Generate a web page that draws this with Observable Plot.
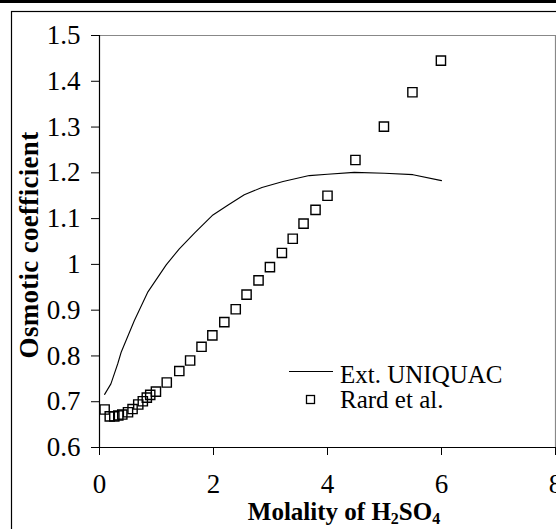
<!DOCTYPE html>
<html>
<head>
<meta charset="utf-8">
<script src="https://cdn.jsdelivr.net/npm/d3@7"></script>
<script src="https://cdn.jsdelivr.net/npm/@observablehq/plot@0.6"></script>
<style>
  html, body { margin: 0; padding: 0; background: #fff; overflow: hidden; }
  #chart { position: absolute; left: 0; top: 0; width: 556px; height: 529px; }
</style>
</head>
<body>
<div id="chart"></div>
<script>
// Rard et al. experimental osmotic coefficients
const rardMolality = [0.09,0.18,0.26,0.33,0.40,0.50,0.58,0.68,0.76,0.83,0.89,0.99,1.18,1.40,1.59,1.79,1.98,2.19,2.39,2.58,2.79,2.99,3.20,3.39,3.58,3.79,4.00,4.49,4.99,5.49,5.99];
const rardPhi = [0.683,0.668,0.668,0.670,0.672,0.677,0.684,0.694,0.701,0.709,0.715,0.722,0.742,0.767,0.790,0.820,0.845,0.874,0.902,0.934,0.965,0.994,1.025,1.056,1.089,1.119,1.150,1.228,1.301,1.376,1.445];
// Extended UNIQUAC model curve
const uniquacMolality = [0.09,0.20,0.32,0.38,0.61,0.85,1.17,1.40,1.67,1.99,2.25,2.54,2.85,3.22,3.68,4.00,4.47,5.00,5.50,6.00];
const uniquacPhi = [0.716,0.739,0.783,0.808,0.877,0.940,0.999,1.034,1.069,1.108,1.129,1.152,1.168,1.181,1.194,1.197,1.201,1.199,1.196,1.183];
// Axis ticks and texts
const xTicks = [0,2,4,6,8];
const yTicks = [0.6,0.7,0.8,0.9,1.0,1.1,1.2,1.3,1.4,1.5];
const yTitle = "Osmotic coefficient";
const xTitleParts = [["Molality of H", false], ["2", true], ["SO", false], ["4", true]];
const legendItems = ["Ext. UNIQUAC", "Rard et al."];

const rard = rardMolality.map((m, i) => ({m, phi: rardPhi[i]}));
const uniquac = uniquacMolality.map((m, i) => ({m, phi: uniquacPhi[i]}));

const font = "Liberation Serif, Times New Roman, serif";

const plot = Plot.plot({
  width: 556,
  height: 529,
  marginLeft: 99,
  marginRight: 1,
  marginTop: 35,
  marginBottom: 82,
  style: {fontFamily: font, fontSize: "27px", background: "white", color: "black", overflow: "hidden"},
  x: {domain: [0, 8]},
  y: {domain: [0.6, 1.5]},
  marks: [
    Plot.ruleY([1.5], {stroke: "#888", strokeWidth: 1.2}),
    Plot.ruleX([8], {stroke: "#888", strokeWidth: 1.2}),
    Plot.axisX({ticks: xTicks, tickSize: 8, tickPadding: 18, tickFormat: d => String(d), label: null, fontSize: 27, stroke: "black"}),
    Plot.axisY({ticks: yTicks, tickSize: 8, tickPadding: 11, tickFormat: d => String(+d.toFixed(1)), label: null, fontSize: 27, stroke: "black"}),
    Plot.ruleX([0], {stroke: "black", strokeWidth: 1.2}),
    Plot.ruleY([0.6], {stroke: "black", strokeWidth: 1.2}),
    Plot.line(uniquac, {x: "m", y: "phi", stroke: "black", strokeWidth: 1.1}),
    Plot.dot(rard, {x: "m", y: "phi", symbol: "square", r: 5.2, stroke: "black", strokeWidth: 1.4, fill: "none"})
  ]
});

document.getElementById("chart").appendChild(plot);

const svg = d3.select(plot);
// outer frame and top band
svg.append("rect").attr("x", 0).attr("y", 0).attr("width", 556).attr("height", 3).attr("fill", "black");
svg.append("rect").attr("x", 11.5).attr("y", 11.5).attr("width", 600).attr("height", 600)
  .attr("fill", "none").attr("stroke", "black").attr("stroke-width", 1.2);

// y title
svg.append("text")
  .attr("transform", "translate(38,245) rotate(-90)")
  .attr("text-anchor", "middle")
  .attr("font-family", font).attr("font-weight", "bold").attr("font-size", 27)
  .attr("letter-spacing", 0.3)
  .attr("fill", "black")
  .text(yTitle);

// x title with subscripts
const xt = svg.append("text")
  .attr("x", 344).attr("y", 520)
  .attr("text-anchor", "middle")
  .attr("font-family", font).attr("font-weight", "bold").attr("font-size", 25)
  .attr("fill", "black");
xTitleParts.forEach(([t, sub], i) => {
  const ts = xt.append("tspan").text(t);
  if (sub) ts.attr("font-size", 16).attr("dy", 4);
  else if (i > 0) ts.attr("dy", -4);
});

// legend
const lg = svg.append("g").attr("font-family", font).attr("font-size", 25).attr("fill", "black").attr("text-anchor", "start");
lg.append("line").attr("x1", 289).attr("x2", 333).attr("y1", 371.5).attr("y2", 371.5)
  .attr("stroke", "black").attr("stroke-width", 1.1);
lg.append("rect").attr("x", 306.5).attr("y", 395.5).attr("width", 8).attr("height", 8)
  .attr("fill", "none").attr("stroke", "black").attr("stroke-width", 1.3);
lg.append("text").attr("x", 340).attr("y", 383).text(legendItems[0]);
lg.append("text").attr("x", 340).attr("y", 408).text(legendItems[1]);
</script>
</body>
</html>
